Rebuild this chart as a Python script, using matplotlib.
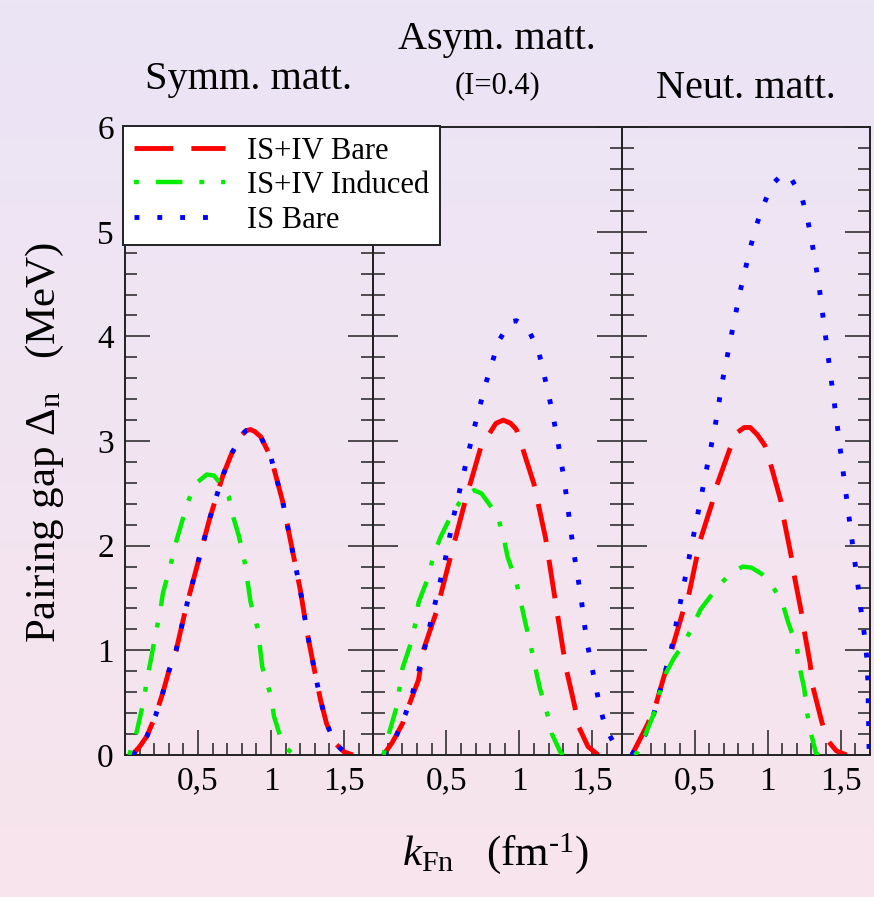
import numpy as np
import matplotlib.pyplot as plt
from matplotlib.ticker import MultipleLocator, FixedLocator

plt.rcParams['font.family'] = ['Liberation Serif', 'DejaVu Serif']
plt.rcParams['mathtext.fontset'] = 'custom'
plt.rcParams['mathtext.rm'] = 'Liberation Serif'
plt.rcParams['mathtext.it'] = 'Liberation Serif:italic'

# --- data: k_Fn (fm^-1) vs pairing gap (MeV) ---
# symmetric matter
symm_bare_k = [0.05, 0.10, 0.15, 0.21, 0.26, 0.30, 0.35, 0.42, 0.50, 0.58, 0.67, 0.73, 0.80, 0.83, 0.86,
               0.89, 0.93, 1.00, 1.04, 1.08, 1.14, 1.20, 1.25, 1.31, 1.34, 1.38, 1.44, 1.50, 1.56]
symm_bare_gap = [0.0, 0.08, 0.18, 0.38, 0.60, 0.80, 1.00, 1.42, 1.84, 2.26, 2.67, 2.88, 3.06, 3.10, 3.11,
                 3.09, 3.04, 2.84, 2.63, 2.42, 2.00, 1.58, 1.15, 0.72, 0.52, 0.30, 0.11, 0.03, 0.0]
symm_ind_k = [0.03, 0.05, 0.08, 0.13, 0.15, 0.18, 0.21, 0.24, 0.26, 0.31, 0.34, 0.38, 0.43, 0.49, 0.56,
              0.61, 0.66, 0.71, 0.74, 0.78, 0.82, 0.84, 0.86, 0.91, 0.94, 1.00, 1.02, 1.06, 1.10, 1.16]
symm_ind_gap = [0.0, 0.10, 0.22, 0.53, 0.72, 0.93, 1.16, 1.36, 1.55, 1.80, 1.99, 2.18, 2.42, 2.60, 2.68,
                2.67, 2.58, 2.47, 2.28, 2.09, 1.84, 1.65, 1.46, 1.20, 0.84, 0.56, 0.37, 0.19, 0.07, 0.0]
symm_is_k = symm_bare_k        # IS bare coincides with IS+IV bare here
symm_is_gap = symm_bare_gap

# asymmetric matter (I=0.4)
asym_bare_k = [0.07, 0.13, 0.20, 0.24, 0.31, 0.34, 0.43, 0.53, 0.63, 0.74, 0.79, 0.84, 0.89, 0.94,
               0.98, 1.02, 1.10, 1.18, 1.24, 1.30, 1.32, 1.38, 1.40, 1.47, 1.54]
asym_bare_gap = [0.0, 0.12, 0.30, 0.46, 0.72, 0.99, 1.36, 1.90, 2.43, 2.96, 3.06, 3.17, 3.20, 3.17,
                 3.11, 2.94, 2.59, 2.07, 1.53, 1.00, 0.83, 0.46, 0.29, 0.08, 0.0]
asym_ind_k = [0.07, 0.10, 0.16, 0.18, 0.20, 0.26, 0.29, 0.31, 0.38, 0.41, 0.46, 0.54, 0.62, 0.69,
              0.74, 0.85, 0.89, 0.92, 0.98, 1.01, 1.04, 1.08, 1.11, 1.14, 1.19, 1.22, 1.28, 1.30]
asym_ind_gap = [0.0, 0.17, 0.46, 0.64, 0.83, 1.08, 1.27, 1.46, 1.71, 1.90, 2.08, 2.31, 2.47, 2.53,
                2.50, 2.29, 2.09, 1.89, 1.65, 1.46, 1.27, 1.03, 0.83, 0.64, 0.40, 0.21, 0.03, 0.0]
asym_is_k = [0.07, 0.16, 0.22, 0.27, 0.31, 0.35, 0.42, 0.49, 0.55, 0.62, 0.69, 0.77, 0.86, 0.94, 0.98,
             1.02, 1.06, 1.13, 1.20, 1.26, 1.31, 1.37, 1.42, 1.46, 1.49, 1.52, 1.55, 1.59, 1.66, 1.70]
asym_is_gap = [0.0, 0.19, 0.39, 0.60, 0.80, 1.01, 1.43, 1.85, 2.28, 2.70, 3.12, 3.55, 3.96, 4.14, 4.15,
               4.12, 4.07, 3.87, 3.45, 3.03, 2.60, 1.96, 1.53, 1.10, 0.89, 0.68, 0.47, 0.26, 0.08, 0.0]

# neutron matter
neut_bare_k = [0.07, 0.10, 0.18, 0.23, 0.34, 0.42, 0.46, 0.54, 0.62, 0.65, 0.74, 0.79, 0.84, 0.88,
               0.93, 0.98, 1.02, 1.09, 1.11, 1.16, 1.18, 1.23, 1.25, 1.29, 1.31, 1.37, 1.41, 1.47, 1.54]
neut_bare_gap = [0.0, 0.08, 0.30, 0.46, 0.99, 1.37, 1.53, 2.06, 2.41, 2.57, 2.92, 3.08, 3.13, 3.13,
                 3.06, 2.96, 2.78, 2.43, 2.26, 1.91, 1.73, 1.37, 1.19, 0.88, 0.65, 0.32, 0.14, 0.04, 0.0]
neut_ind_k = [0.09, 0.11, 0.17, 0.24, 0.26, 0.31, 0.36, 0.42, 0.48, 0.54, 0.60, 0.66, 0.75, 0.83,
              0.89, 0.96, 1.03, 1.10, 1.14, 1.20, 1.22, 1.25, 1.27, 1.30, 1.33, 1.35]
neut_ind_gap = [0.0, 0.03, 0.22, 0.46, 0.59, 0.80, 0.93, 1.05, 1.21, 1.39, 1.50, 1.61, 1.74, 1.80,
                1.79, 1.73, 1.62, 1.46, 1.27, 1.03, 0.83, 0.64, 0.40, 0.19, 0.02, 0.0]
neut_is_k = [0.07, 0.16, 0.22, 0.26, 0.30, 0.34, 0.40, 0.46, 0.52, 0.58, 0.64, 0.69, 0.75, 0.81, 0.88,
             0.92, 0.97, 1.03, 1.10, 1.15, 1.23, 1.27, 1.30, 1.35, 1.39, 1.43, 1.47, 1.51, 1.55, 1.59,
             1.61, 1.63, 1.65, 1.67, 1.683, 1.69, 1.695]
neut_is_gap = [0.0, 0.19, 0.39, 0.60, 0.80, 1.01, 1.44, 1.87, 2.29, 2.72, 3.14, 3.57, 4.00, 4.42, 4.84,
               5.05, 5.25, 5.45, 5.55, 5.53, 5.35, 5.14, 4.93, 4.50, 4.07, 3.64, 3.22, 2.78, 2.35, 1.92,
               1.71, 1.49, 1.27, 1.07, 0.85, 0.41, 0.0]

panels = [
    (symm_bare_k, symm_bare_gap, symm_ind_k, symm_ind_gap, symm_is_k, symm_is_gap),
    (asym_bare_k, asym_bare_gap, asym_ind_k, asym_ind_gap, asym_is_k, asym_is_gap),
    (neut_bare_k, neut_bare_gap, neut_ind_k, neut_ind_gap, neut_is_k, neut_is_gap),
]
labels = ['IS+IV Bare', 'IS+IV Induced', 'IS Bare']
xtick_vals = [0.5, 1.0, 1.5]
xtick_text = ['0,5', '1', '1,5']

fig = plt.figure(figsize=(8.74, 8.97), dpi=100)

# background gradient lavender -> pink
bg = fig.add_axes([0, 0, 1, 1], zorder=-10)
top = np.array([235, 229, 246]) / 255
bot = np.array([248, 228, 236]) / 255
t = np.linspace(0, 1, 256)[:, None]
grad = (top[None, :] * (1 - t) + bot[None, :] * t)[:, None, :]
bg.imshow(grad, aspect='auto', extent=[0, 1, 0, 1])
bg.axis('off')

left0, bottom0, w, h = 0.143, 0.1583, 0.2841, 0.700
for i, (bk, bgap, ik, ig, sk, sg) in enumerate(panels):
    ax = fig.add_axes([left0 + i * w, bottom0, w, h])
    ax.patch.set_alpha(0)
    l1, = ax.plot(bk, bgap, color='#ff0000', lw=3.5, ls=(0, (8, 3.7)), zorder=2)
    l3, = ax.plot(sk, sg, color='#0000ff', lw=3.5, ls=(0, (1, 3.7)), zorder=3)
    l2, = ax.plot(ik, ig, color='#00ee00', lw=3.2, ls=(9.8, (6, 3.8, 1.1, 3.8)), zorder=4)
    ax.set_xlim(0, 1.70)
    ax.set_ylim(0, 6)
    ax.xaxis.set_major_locator(FixedLocator(xtick_vals))
    ax.set_xticklabels(xtick_text)
    ax.xaxis.set_minor_locator(MultipleLocator(0.1))
    ax.yaxis.set_major_locator(MultipleLocator(1))
    ax.yaxis.set_minor_locator(MultipleLocator(0.2))
    ax.tick_params(which='both', direction='in', left=True, right=True, top=False, bottom=True,
                   color='#222222', width=1.1)
    ax.tick_params(which='major', length=18, labelsize=24, pad=8)
    ax.tick_params(which='minor', length=8.6)
    if i > 0:
        ax.set_yticklabels([])
    for sp in ax.spines.values():
        sp.set_linewidth(1.4)
        sp.set_color('#222222')
    if i == 0:
        handles = [l1, l2, l3]

# panel titles
fig.text((125 + 372) / 2 / 874, 1 - 80 / 897, 'Symm. matt.', ha='center', va='center', fontsize=29)
fig.text((372 + 622) / 2 / 874, 1 - 40 / 897, 'Asym. matt.', ha='center', va='center', fontsize=29)
fig.text((372 + 622) / 2 / 874, 1 - 86 / 897, '(I=0.4)', ha='center', va='center', fontsize=22)
fig.text((622 + 870) / 2 / 874, 1 - 88 / 897, 'Neut. matt.', ha='center', va='center', fontsize=29)

# axis labels
fig.text(45 / 874, 0.507, r'Pairing gap $\Delta_{\rm n}$   (MeV)', rotation=90,
         ha='center', va='center', fontsize=31)
fig.text(495 / 874, 0.048, r'$k_{\rm Fn}$   (fm$^{\rm ' + '\u2010' + r'1}$)',
         ha='center', va='center', fontsize=31)

leg = fig.legend(handles, labels, loc='upper left', bbox_to_anchor=(123 / 874, 1 - 126 / 897),
                 borderaxespad=0, fontsize=22, handlelength=3.0, handletextpad=0.7,
                 labelspacing=0.18, borderpad=0.35, fancybox=False, framealpha=1,
                 edgecolor='#222222', facecolor='white')
leg.get_frame().set_linewidth(1.4)

fig.savefig('out.png', dpi=100)
